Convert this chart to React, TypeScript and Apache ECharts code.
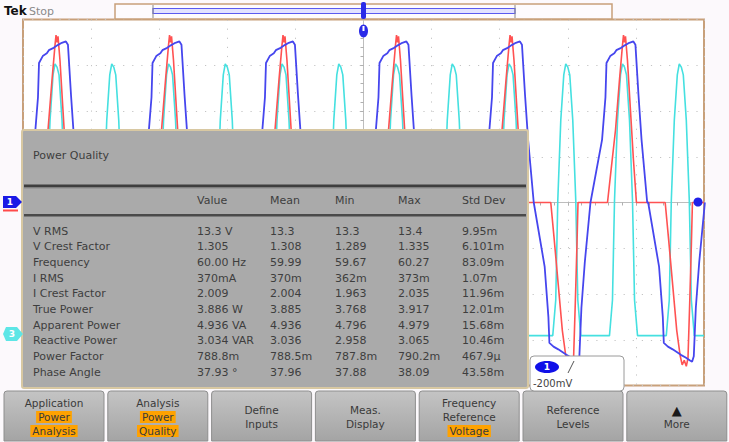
import React, { useEffect, useRef } from 'react';
import * as echarts from 'echarts';

// ---- Waveform data (time in ms, amplitude in divisions) ----
// CH1 (blue) rising / falling zero crossings
const ch1Rising = [-50, -33.33, -16.67, 0, 16.67, 33.33];
const ch1Falling = [-41.7, -25.0, -8.35, 8.35, 25.0, 41.8];
// CH1 positive half-cycle, [ms after rising crossing, div]
const ch1PositiveHalf = [
  [0, 0], [1.7, 1.37], [2.2, 2.3], [2.35, 3.05], [2.9, 3.2], [3.5, 3.26], [3.8, 3.33],
  [4.5, 3.38], [5.1, 3.44], [5.7, 3.49], [6.3, 3.52], [6.6, 3.45], [7.05, 2.35], [7.5, 1.37], [8.33, 0],
];
// CH1 negative half-cycle, [ms after falling crossing, div]
const ch1NegativeHalf = [
  [0, 0], [1.6, -1.4], [2.15, -2.5], [2.3, -3.07], [2.9, -3.15], [3.6, -3.21], [4.2, -3.27],
  [4.8, -3.33], [5.5, -3.39], [6.2, -3.46], [6.45, -3.48], [6.7, -3.36], [7.0, -2.3], [7.5, -1.3], [8.33, 0],
];
// CH2 (red) current pulse after CH1 rising crossing
const ch2PositivePulse = [
  [2.5, 0], [2.94, 0.6], [3.67, 1.58], [4.26, 2.68], [4.7, 3.44], [4.85, 3.66], [4.99, 3.5],
  [5.14, 3.63], [5.43, 3.11], [5.87, 2.02], [6.31, 0.93], [6.75, 0],
];
// CH2 current pulse after CH1 falling crossing
const ch2NegativePulse = [
  [2.5, 0], [3.0, -0.8], [3.6, -1.8], [4.2, -2.8], [4.7, -3.35], [5.0, -3.55], [5.3, -3.45],
  [5.6, -3.58], [5.85, -3.4], [6.1, -2.2], [6.35, -0.9], [6.5, 0],
];
// CH3 (cyan) baseline and pulses
const ch3Baseline = -2.91;
const ch3PulseCenters = [-45.15, -36.82, -28.48, -20.15, -11.82, -3.48, 4.85, 13.18, 21.52, 29.85, 38.18, 46.52];
const ch3Pulse = [
  [-2.06, -2.91], [-1.62, -2.13], [-1.32, 0.05], [-0.88, 1.8], [-0.44, 2.79], [-0.15, 3.03],
  [0.15, 2.96], [0.44, 2.79], [0.88, 1.8], [1.32, 0.05], [1.62, -2.13], [2.06, -2.91],
];

// ---- Power Quality table ----
const tableTitle = 'Power Quality';
const columnHeaders = ['Value', 'Mean', 'Min', 'Max', 'Std Dev'];
const rowLabels = ['V RMS', 'V Crest Factor', 'Frequency', 'I RMS', 'I Crest Factor', 'True Power', 'Apparent Power', 'Reactive Power', 'Power Factor', 'Phase Angle'];
const valueCol = ['13.3 V', '1.305', '60.00 Hz', '370mA', '2.009', '3.886 W', '4.936 VA', '3.034 VAR', '788.8m', '37.93 °'];
const meanCol = ['13.3', '1.308', '59.99', '370m', '2.004', '3.885', '4.936', '3.036', '788.5m', '37.96'];
const minCol = ['13.3', '1.289', '59.67', '362m', '1.963', '3.768', '4.796', '2.958', '787.8m', '37.88'];
const maxCol = ['13.4', '1.335', '60.27', '373m', '2.035', '3.917', '4.979', '3.065', '790.2m', '38.09'];
const stdCol = ['9.95m', '6.101m', '83.09m', '1.07m', '11.96m', '12.01m', '15.68m', '10.46m', '467.9µ', '43.58m'];

// ---- Menu buttons ----
const buttonLines = [
  ['Application', 'Power', 'Analysis'],
  ['Analysis', 'Power', 'Quality'],
  ['Define', 'Inputs'],
  ['Meas.', 'Display'],
  ['Frequency', 'Reference', 'Voltage'],
  ['Reference', 'Levels'],
  ['▲', 'More'],
];
const buttonHighlights = [[1, 2], [1, 2], [], [], [2], [], []];
const readoutScale = '-200mV';

const FONT = '"DejaVu Sans", "Liberation Sans", sans-serif';

function shift(pts: number[][], t0: number) {
  return pts.map(([t, v]) => [Math.round((t0 + t) * 100) / 100, v]);
}

function buildOption() {
  const ch1: number[][] = [];
  ch1Rising.forEach((t0, i) => {
    ch1.push(...shift(ch1PositiveHalf, t0));
    ch1.push(...shift(ch1NegativeHalf, ch1Falling[i]));
  });
  const ch2: number[][] = [[-50, 0]];
  ch1Rising.forEach((t0, i) => {
    ch2.push(...shift(ch2PositivePulse, t0));
    ch2.push(...shift(ch2NegativePulse, ch1Falling[i]));
  });
  ch2.push([50, 0]);
  const ch3: number[][] = [[-50, ch3Baseline]];
  ch3PulseCenters.forEach((c) => ch3.push(...shift(ch3Pulse, c)));
  ch3.push([50, ch3Baseline]);

  const els: any[] = [];
  const txt = (x: number, y: number, text: string, o: any = {}) => {
    els.push({
      type: 'text',
      z: 120,
      style: {
        text, x, y,
        fill: o.fill || '#3e3e3e',
        font: o.font || `11px ${FONT}`,
        textAlign: o.align || 'left', align: o.align || 'left',
        textVerticalAlign: 'middle', verticalAlign: 'middle',
        backgroundColor: o.bg, padding: o.bg ? [1, 2, 0, 2] : undefined,
      },
    });
  };

  // top status bar
  txt(4, 11, 'Tek', { font: `bold 12px ${FONT}`, fill: '#111' });
  txt(29, 11, 'Stop', { font: `11px ${FONT}`, fill: '#8a8a8a' });
  els.push({ type: 'rect', z: 110, shape: { x: 115, y: 4, width: 497, height: 15 }, style: { fill: '#fdfbfd', stroke: '#c8a07a', lineWidth: 1.5 } });
  els.push({ type: 'rect', z: 111, shape: { x: 153, y: 8.5, width: 362, height: 5 }, style: { fill: '#e2e2ff', stroke: '#5a5af0', lineWidth: 1.2 } });
  els.push({ type: 'line', z: 111, shape: { x1: 153, y1: 5, x2: 153, y2: 18 }, style: { stroke: '#888', lineWidth: 1 } });
  els.push({ type: 'line', z: 111, shape: { x1: 515, y1: 5, x2: 515, y2: 18 }, style: { stroke: '#888', lineWidth: 1 } });
  els.push({ type: 'rect', z: 112, shape: { x: 361, y: 2, width: 5, height: 17, r: 2 }, style: { fill: '#2a2ae8' } });
  els.push({ type: 'ellipse', z: 112, shape: { cx: 363.5, cy: 31, rx: 4.5, ry: 6.5 }, style: { fill: '#2a2ae8' } });
  els.push({ type: 'rect', z: 113, shape: { x: 362.5, y: 26, width: 2, height: 5 }, style: { fill: '#ffffff' } });

  // channel markers
  els.push({ type: 'polygon', z: 110, shape: { points: [[3, 196], [16, 196], [22, 202], [16, 208], [3, 208]] }, style: { fill: '#1a1ae6' } });
  txt(10, 202, '1', { font: `bold 9px ${FONT}`, fill: '#ffffff', align: 'center' });
  els.push({ type: 'rect', z: 110, shape: { x: 3, y: 209.5, width: 15, height: 2 }, style: { fill: '#ff4a4a' } });
  els.push({ type: 'polygon', z: 110, shape: { points: [[6, 327], [17, 327], [23, 334], [17, 341], [6, 341], [3, 334]] }, style: { fill: '#5de6e6' } });
  txt(12, 334, '3', { font: `bold 9px ${FONT}`, fill: '#ffffff', align: 'center' });
  els.push({ type: 'circle', z: 110, shape: { cx: 698, cy: 202, r: 4.5 }, style: { fill: '#2020e8' } });

  // Power Quality panel
  els.push({ type: 'rect', z: 100, shape: { x: 22, y: 130, width: 506, height: 258, r: 2 }, style: { fill: '#aaaaaa', stroke: '#d8c8a2', lineWidth: 2 } });
  els.push({ type: 'rect', z: 101, shape: { x: 24, y: 184.5, width: 502, height: 3 }, style: { fill: '#3e3e3e' } });
  els.push({ type: 'rect', z: 101, shape: { x: 24, y: 187.5, width: 502, height: 1 }, style: { fill: '#8a8a8a' } });
  els.push({ type: 'rect', z: 101, shape: { x: 24, y: 214, width: 502, height: 2.5 }, style: { fill: '#4a4a4a' } });
  txt(33, 155, tableTitle);
  const colX = [197, 270, 335, 398, 462];
  columnHeaders.forEach((h, i) => txt(colX[i], 200, h));
  const cols = [valueCol, meanCol, minCol, maxCol, stdCol];
  rowLabels.forEach((lab, r) => {
    const y = 231 + r * 15.67;
    txt(33, y, lab);
    cols.forEach((c, i) => txt(colX[i], y, c[r]));
  });

  // menu buttons
  buttonLines.forEach((lines, i) => {
    const x = 4 + 103.8 * i;
    const w = 100;
    els.push({
      type: 'rect', z: 100, shape: { x, y: 391, width: w, height: 50, r: [3, 3, 0, 0] },
      style: {
        fill: { type: 'linear', x: 0, y: 0, x2: 0, y2: 1, colorStops: [{ offset: 0, color: '#c4c4c4' }, { offset: 1, color: '#a4a4a4' }] },
        stroke: '#8e8e8e', lineWidth: 1,
      },
    });
    const y0 = lines.length === 3 ? 403 : 410;
    lines.forEach((ln, j) => {
      const hl = buttonHighlights[i].includes(j);
      txt(x + w / 2, y0 + 14 * j, ln, {
        align: 'center',
        font: ln === '▲' ? `13px ${FONT}` : `10.5px ${FONT}`,
        fill: ln === '▲' ? '#1a1a1a' : '#3a3a3a',
        bg: hl ? '#ffa200' : undefined,
      });
    });
  });

  // scale readout box
  els.push({ type: 'rect', z: 105, shape: { x: 530, y: 356, width: 94, height: 35, r: 4 }, style: { fill: '#ffffff', stroke: '#9a9a9a', lineWidth: 1 } });
  els.push({ type: 'ellipse', z: 106, shape: { cx: 547, cy: 367, rx: 12, ry: 6 }, style: { fill: '#1010e8' } });
  txt(547, 367, '1', { font: `bold 9px ${FONT}`, fill: '#ffffff', align: 'center' });
  els.push({ type: 'line', z: 106, shape: { x1: 568, y1: 373, x2: 574, y2: 361 }, style: { stroke: '#555', lineWidth: 1 } });
  txt(533, 383, readoutScale, { font: `10px ${FONT}`, fill: '#444' });

  const tickStyle = { color: '#b0b0b0', width: 1 };
  return {
    animation: false,
    backgroundColor: '#fcf9fc',
    grid: { left: 23, top: 19.5, width: 681, height: 366, show: true, backgroundColor: '#ffffff', borderColor: '#c8a07a', borderWidth: 2 },
    xAxis: [
      {
        type: 'value', min: -50, max: 50, interval: 10, position: 'bottom',
        axisLabel: { show: false },
        axisLine: { show: true, onZero: true, lineStyle: { color: '#bdbdbd', width: 1 } },
        axisTick: { show: true, length: 3, lineStyle: tickStyle },
        minorTick: { show: true, splitNumber: 5, length: 3, lineStyle: tickStyle },
        splitLine: { show: true, lineStyle: { color: '#c4c4c4', type: [1.2, 7.9] } },
      },
      {
        type: 'value', min: -50, max: 50, interval: 10, position: 'top',
        axisLabel: { show: false }, axisLine: { show: false },
        axisTick: { show: true, inside: true, length: 3, lineStyle: tickStyle },
        minorTick: { show: true, splitNumber: 5, length: 2, lineStyle: tickStyle },
        splitLine: { show: false },
      },
    ],
    yAxis: [
      {
        type: 'value', min: -4, max: 4, interval: 1, position: 'left',
        axisLabel: { show: false },
        axisLine: { show: true, onZero: true, lineStyle: { color: '#bdbdbd', width: 1 } },
        axisTick: { show: true, length: 3, lineStyle: tickStyle },
        minorTick: { show: true, splitNumber: 5, length: 3, lineStyle: tickStyle },
        splitLine: { show: true, lineStyle: { color: '#c4c4c4', type: [1.2, 7.9] } },
      },
      {
        type: 'value', min: -4, max: 4, interval: 1, position: 'right',
        axisLabel: { show: false }, axisLine: { show: false },
        axisTick: { show: true, inside: true, length: 3, lineStyle: tickStyle },
        minorTick: { show: true, splitNumber: 5, length: 2, lineStyle: tickStyle },
        splitLine: { show: false },
      },
    ],
    series: [
      { name: 'CH3', type: 'line', data: ch3, showSymbol: false, symbol: 'none', lineStyle: { color: '#45e0e0', width: 1.6 }, z: 3 },
      { name: 'CH2', type: 'line', data: ch2, showSymbol: false, symbol: 'none', lineStyle: { color: '#ff5252', width: 1.6 }, z: 4 },
      { name: 'CH1', type: 'line', data: ch1, showSymbol: false, symbol: 'none', lineStyle: { color: '#4646ee', width: 1.8 }, z: 5 },
    ],
    graphic: { elements: els },
  };
}

export default function App() {
  const ref = useRef<HTMLDivElement>(null);
  useEffect(() => {
    if (!ref.current) return;
    const chart = echarts.init(ref.current, null, { renderer: 'svg', width: 729, height: 442 });
    chart.setOption(buildOption() as any);
    return () => chart.dispose();
  }, []);
  return (
    <div
      ref={ref}
      style={{ position: 'fixed', left: 0, top: 0, width: 729, height: 442, background: '#fcf9fc' }}
    />
  );
}
